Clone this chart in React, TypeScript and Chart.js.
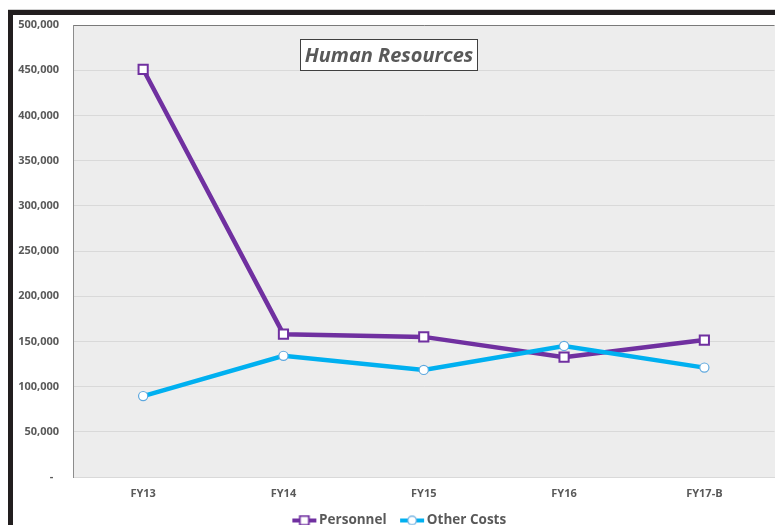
import React, { useEffect, useRef } from 'react';
import { Chart, registerables } from 'chart.js';

Chart.register(...registerables);

const categories: string[] = ['FY13', 'FY14', 'FY15', 'FY16', 'FY17-B'];
const personnel: number[] = [451000, 158000, 155000, 132500, 151500];
const otherCosts: number[] = [89500, 134000, 118500, 145000, 121000];
const seriesNames: string[] = ['Personnel', 'Other Costs'];
const chartTitle = 'Human Resources';
const yMin = 0;
const yMax = 500000;
const yStep = 50000;

const PURPLE = '#7030A0';
const BLUE = '#00B0F0';
const CIRCLE_BORDER = '#5FA8DE';
const TEXT = '#595959';
const FONT = "'Open Sans', 'DejaVu Sans', sans-serif";

function makeIcon(lineColor: string, shape: 'rect' | 'circle'): HTMLCanvasElement {
  const c = document.createElement('canvas');
  c.width = 26;
  c.height = 12;
  const ctx = c.getContext('2d')!;
  ctx.strokeStyle = lineColor;
  ctx.lineWidth = 4;
  ctx.beginPath();
  ctx.moveTo(1, 6);
  ctx.lineTo(25, 6);
  ctx.stroke();
  ctx.fillStyle = '#ffffff';
  if (shape === 'rect') {
    ctx.strokeStyle = lineColor;
    ctx.lineWidth = 1.8;
    ctx.fillRect(8.5, 1.5, 9, 9);
    ctx.strokeRect(8.5, 1.5, 9, 9);
  } else {
    ctx.strokeStyle = CIRCLE_BORDER;
    ctx.lineWidth = 1.2;
    ctx.beginPath();
    ctx.arc(13, 6, 4.3, 0, Math.PI * 2);
    ctx.fill();
    ctx.stroke();
  }
  return c;
}

const framePlugin = {
  id: 'frame',
  afterLayout(chart: any) {
    if (chart.legend) {
      chart.legend.left += 7.5;
      chart.legend.right += 7.5;
      chart.legend.top -= 3.75;
      chart.legend.bottom -= 3.75;
    }
  },
  beforeDraw(chart: any) {
    const { ctx, width, height, chartArea } = chart;
    ctx.save();
    ctx.fillStyle = '#ffffff';
    ctx.fillRect(0, 0, width, height);
    ctx.fillStyle = '#d0d0d0';
    ctx.fillRect(8, 9, width, 1);
    ctx.fillStyle = '#221e1f';
    ctx.fillRect(8, 10, width, 5);
    ctx.fillRect(8, 10, 5, height);
    ctx.fillStyle = '#ededed';
    ctx.fillRect(chartArea.left, chartArea.top, width - chartArea.left, chartArea.bottom - chartArea.top);
    ctx.restore();
  },
  beforeDatasetsDraw(chart: any) {
    const { ctx } = chart;
    ctx.save();
    const bx = 300.5, by = 39.5, bw = 177, bh = 31;
    ctx.fillStyle = '#ffffff';
    ctx.fillRect(bx, by, bw, bh);
    ctx.strokeStyle = '#404040';
    ctx.lineWidth = 1;
    ctx.strokeRect(bx, by, bw, bh);
    ctx.fillStyle = TEXT;
    ctx.font = `italic bold 20px ${FONT}`;
    ctx.textAlign = 'center';
    ctx.textBaseline = 'middle';
    ctx.fillText(chartTitle, bx + bw / 2, by + bh / 2 + 1);
    ctx.restore();
  },
};

export default function App() {
  const ref = useRef<HTMLCanvasElement | null>(null);

  useEffect(() => {
    const canvas = ref.current!;
    const iconP = makeIcon(PURPLE, 'rect');
    const iconO = makeIcon(BLUE, 'circle');
    const chart = new Chart(canvas, {
      type: 'line',
      data: {
        labels: categories,
        datasets: [
          {
            label: seriesNames[0],
            data: personnel,
            borderColor: PURPLE,
            borderWidth: 4.5,
            pointStyle: 'rect',
            pointRadius: 6.5,
            pointBorderWidth: 2,
            pointBorderColor: PURPLE,
            pointBackgroundColor: '#ffffff',
            tension: 0,
            order: 1,
          },
          {
            label: seriesNames[1],
            data: otherCosts,
            borderColor: BLUE,
            borderWidth: 4.5,
            pointStyle: 'circle',
            pointRadius: 4.6,
            pointBorderWidth: 1.2,
            pointBorderColor: CIRCLE_BORDER,
            pointBackgroundColor: '#ffffff',
            tension: 0,
            order: 0,
          },
        ],
      },
      options: {
        responsive: false,
        animation: false,
        layout: { padding: { left: 13, top: 25, right: 15.5, bottom: 0 } },
        scales: {
          x: {
            offset: true,
            afterFit: (scale: any) => {
              scale.height = 23;
            },
            grid: { display: false, drawTicks: false },
            border: { display: true, color: '#d9d9d9', width: 1 },
            ticks: {
              padding: 10,
              color: TEXT,
              font: { family: FONT, weight: 'bold', size: 11 },
              maxRotation: 0,
            },
          },
          y: {
            min: yMin,
            max: yMax,
            afterFit: (scale: any) => {
              scale.width = 60;
            },
            grid: {
              drawTicks: false,
              color: (c: any) => (c.tick && c.tick.value === yMax ? '#7a7a7a' : '#d9d9d9'),
              lineWidth: 1,
            },
            border: { display: true, color: '#8c8c8c', width: 1 },
            ticks: {
              stepSize: yStep,
              padding: 14,
              color: TEXT,
              font: { family: FONT, weight: 'bold', size: 11 },
              callback: (v: any) => (Number(v) === 0 ? '-  ' : Number(v).toLocaleString('en-US')),
            },
          },
        },
        plugins: {
          title: { display: false },
          tooltip: { enabled: false },
          legend: {
            position: 'bottom',
            labels: {
              usePointStyle: true,
              pointStyleWidth: 16,
              boxHeight: 12,
              padding: 17.5,
              color: TEXT,
              font: { family: FONT, weight: 'bold', size: 13.5 },
              generateLabels: () => [
                { text: seriesNames[0], pointStyle: iconP as any, fillStyle: PURPLE, strokeStyle: PURPLE, lineWidth: 0, hidden: false, datasetIndex: 0, fontColor: TEXT },
                { text: seriesNames[1], pointStyle: iconO as any, fillStyle: BLUE, strokeStyle: BLUE, lineWidth: 0, hidden: false, datasetIndex: 1, fontColor: TEXT },
              ],
            },
          },
        },
      } as any,
      plugins: [framePlugin],
    });
    return () => chart.destroy();
  }, []);

  return (
    <div style={{ position: 'fixed', left: 0, top: 0, width: 775, height: 525, overflow: 'hidden', background: '#fff' }}>
      <canvas ref={ref} width={790} height={541} style={{ width: 790, height: 541, display: 'block' }} />
    </div>
  );
}
